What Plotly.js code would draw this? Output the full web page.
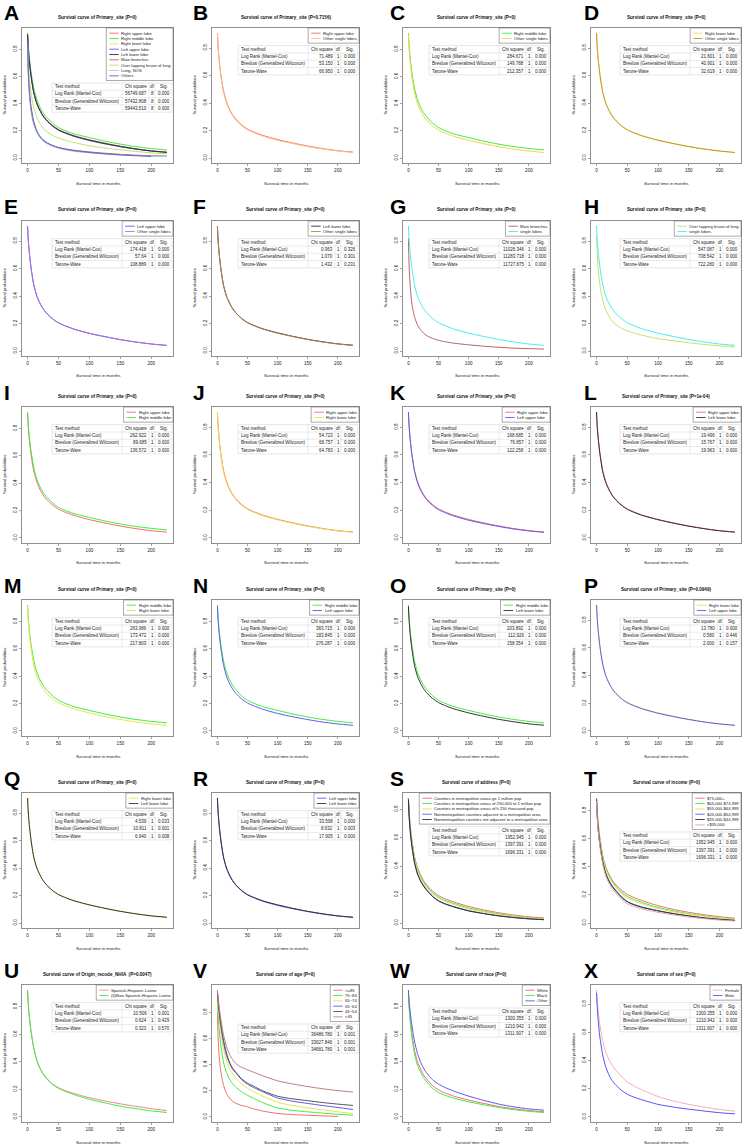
<!DOCTYPE html>
<html><head><meta charset="utf-8">
<script src="https://cdn.plot.ly/plotly-3.0.1.min.js"></script>
<style>html,body{margin:0;padding:0;background:#fff}#chart{width:744px;height:1144px}</style>
</head><body><div id="chart"></div>
<script>
// ---------------- DATA ----------------
const months = [0,1,2,3,5,7,10,15,20,25,30,40,50,60,75,100,125,150,175,200,225];

// primary site subgroups
const rightUpperLobe  = [0.91,0.82,0.76,0.71,0.63,0.57,0.49,0.41,0.355,0.315,0.285,0.242,0.21,0.19,0.165,0.134,0.109,0.087,0.068,0.053,0.043];
const rightMiddleLobe = [0.92,0.84,0.78,0.73,0.655,0.595,0.515,0.43,0.375,0.335,0.305,0.258,0.224,0.203,0.178,0.15,0.124,0.102,0.084,0.07,0.059];
const rightLowerLobe  = [0.91,0.815,0.755,0.705,0.625,0.56,0.48,0.40,0.35,0.31,0.28,0.237,0.206,0.186,0.161,0.131,0.106,0.084,0.066,0.051,0.041];
const leftUpperLobe   = [0.91,0.82,0.76,0.71,0.63,0.565,0.485,0.40,0.348,0.308,0.278,0.235,0.204,0.184,0.159,0.128,0.104,0.083,0.065,0.051,0.041];
const leftLowerLobe   = [0.91,0.815,0.755,0.705,0.625,0.56,0.48,0.40,0.35,0.31,0.281,0.238,0.207,0.187,0.162,0.132,0.107,0.085,0.067,0.052,0.042];
const mainBronchus    = [0.82,0.64,0.54,0.47,0.37,0.31,0.25,0.19,0.155,0.13,0.113,0.092,0.078,0.068,0.057,0.045,0.035,0.027,0.021,0.017,0.014];
const overlapLesion   = [0.84,0.72,0.64,0.58,0.50,0.44,0.37,0.30,0.255,0.222,0.198,0.167,0.147,0.132,0.114,0.09,0.074,0.06,0.048,0.038,0.03];
const lungNOS         = [0.85,0.66,0.55,0.48,0.385,0.325,0.26,0.19,0.15,0.125,0.108,0.086,0.071,0.061,0.05,0.038,0.029,0.022,0.017,0.013,0.011];
const othersSite      = [0.86,0.67,0.565,0.495,0.40,0.34,0.27,0.2,0.16,0.135,0.117,0.093,0.077,0.066,0.054,0.041,0.031,0.023,0.017,0.012,null];
const otherSingleLobes= [0.91,0.815,0.755,0.705,0.625,0.56,0.482,0.40,0.349,0.309,0.279,0.236,0.205,0.185,0.16,0.129,0.105,0.083,0.065,0.051,0.04];
const singleLobes     = [0.91,0.82,0.76,0.71,0.63,0.565,0.485,0.40,0.35,0.31,0.28,0.237,0.206,0.186,0.16,0.13,0.106,0.084,0.066,0.051,0.041];

// address
const metroGe1M      = [0.88,0.80,0.74,0.69,0.61,0.55,0.47,0.39,0.34,0.30,0.27,0.225,0.193,0.172,0.148,0.116,0.092,0.072,0.056,0.044,0.036];
const metro250k1M    = [0.88,0.79,0.73,0.68,0.60,0.54,0.46,0.38,0.33,0.29,0.26,0.214,0.182,0.161,0.138,0.106,0.083,0.064,0.049,0.037,0.03];
const metroLt250k    = [0.87,0.78,0.72,0.67,0.59,0.53,0.45,0.37,0.32,0.28,0.25,0.205,0.173,0.153,0.13,0.099,0.078,0.06,0.046,0.035,0.028];
const nonmetroAdj    = [0.87,0.77,0.70,0.65,0.57,0.51,0.43,0.35,0.30,0.265,0.236,0.19,0.158,0.138,0.116,0.087,0.067,0.051,0.039,0.03,0.024];
const nonmetroNotAdj = [0.87,0.765,0.695,0.645,0.565,0.505,0.425,0.345,0.296,0.26,0.232,0.186,0.154,0.135,0.113,0.085,0.066,0.05,0.038,0.029,0.023];

// income
const income75   = [0.89,0.81,0.75,0.70,0.62,0.56,0.48,0.40,0.35,0.31,0.28,0.236,0.204,0.183,0.158,0.123,0.097,0.076,0.059,0.045,0.034];
const income65   = [0.89,0.80,0.74,0.69,0.61,0.55,0.47,0.39,0.34,0.30,0.27,0.222,0.19,0.169,0.145,0.11,0.086,0.066,0.051,0.038,0.029];
const income55   = [0.88,0.79,0.73,0.68,0.60,0.54,0.46,0.38,0.33,0.29,0.26,0.212,0.178,0.158,0.135,0.103,0.08,0.062,0.048,0.036,0.027];
const income45   = [0.88,0.78,0.71,0.66,0.58,0.52,0.44,0.355,0.305,0.268,0.24,0.19,0.154,0.134,0.113,0.088,0.068,0.051,0.037,0.027,0.019];
const income35   = [0.88,0.775,0.705,0.655,0.575,0.515,0.435,0.35,0.30,0.263,0.235,0.186,0.15,0.131,0.11,0.086,0.066,0.05,0.036,0.026,0.018];
const incomeLt35 = [0.87,0.76,0.69,0.64,0.56,0.50,0.42,0.335,0.285,0.248,0.22,0.172,0.136,0.118,0.099,0.076,0.058,0.043,0.031,0.021,0.014];

// origin
const hispanic    = [0.92,0.83,0.77,0.72,0.64,0.58,0.50,0.41,0.355,0.315,0.285,0.24,0.212,0.193,0.17,0.139,0.116,0.095,0.077,0.06,0.046];
const nonHispanic = [0.92,0.83,0.77,0.72,0.64,0.58,0.50,0.41,0.353,0.312,0.282,0.236,0.207,0.187,0.162,0.127,0.102,0.078,0.06,0.044,0.032];

// age
const ageGe85  = [0.80,0.63,0.53,0.46,0.37,0.31,0.245,0.18,0.145,0.12,0.105,0.088,0.077,0.062,0.045,0.026,0.018,0.013,0.008,0.004,null];
const age75_84 = [0.89,0.79,0.72,0.66,0.57,0.50,0.42,0.34,0.29,0.255,0.23,0.193,0.165,0.142,0.11,0.068,0.05,0.039,0.029,0.02,0.013];
const age65_74 = [0.93,0.86,0.80,0.75,0.67,0.60,0.52,0.43,0.37,0.33,0.30,0.252,0.219,0.193,0.16,0.112,0.087,0.07,0.054,0.039,0.026];
const age55_64 = [0.95,0.89,0.84,0.79,0.72,0.65,0.57,0.47,0.41,0.365,0.34,0.285,0.25,0.225,0.193,0.145,0.12,0.103,0.087,0.072,0.057];
const age45_54 = [0.96,0.90,0.85,0.81,0.73,0.67,0.59,0.49,0.42,0.375,0.345,0.293,0.258,0.235,0.2,0.158,0.138,0.124,0.11,0.098,0.088];
const ageLt45  = [0.97,0.92,0.88,0.84,0.77,0.71,0.63,0.54,0.48,0.44,0.41,0.38,0.36,0.342,0.315,0.276,0.252,0.232,0.215,0.201,0.19];

// race
const raceWhite = [0.91,0.82,0.76,0.71,0.63,0.565,0.485,0.40,0.35,0.305,0.275,0.228,0.196,0.175,0.151,0.122,0.098,0.076,0.059,0.046,0.037];
const raceBlack = [0.90,0.81,0.745,0.695,0.61,0.545,0.46,0.375,0.325,0.285,0.255,0.209,0.177,0.158,0.136,0.11,0.088,0.068,0.053,0.041,0.032];
const raceOther = [0.92,0.85,0.80,0.76,0.69,0.63,0.55,0.46,0.40,0.355,0.32,0.27,0.238,0.215,0.188,0.151,0.12,0.093,0.073,0.058,0.049];

// sex
const female = [0.90,0.83,0.78,0.74,0.67,0.61,0.54,0.46,0.41,0.37,0.34,0.29,0.248,0.222,0.19,0.145,0.113,0.089,0.07,0.053,0.041];
const male   = [0.88,0.79,0.72,0.67,0.58,0.52,0.44,0.355,0.30,0.26,0.232,0.19,0.161,0.142,0.12,0.089,0.07,0.055,0.042,0.03,0.022];

// test tables
const testMethods = ["Log Rank (Mantel-Cox)","Breslow (Generalized Wilcoxon)","Tarone-Ware"];
const tableHeader = ["Test method","Chi square","df","Sig."];
const chiSquare = [
 ["56749.687","57432.808","59443.510"],["71.489","53.150","66.950"],["284.671","149.788","212.357"],["21.601","40.901","32.619"],
 ["174.418","57.64","108.889"],["0.963","1.070","1.432"],["11026.346","11283.718","11727.875"],["547.087","708.542","722.280"],
 ["262.922","89.685","136.572"],["54.723","68.757","64.783"],["168.685","76.857","122.258"],["19.496","15.767","19.963"],
 ["263.986","173.472","217.803"],["383.715","183.845","276.287"],["203.892","112.926","158.354"],["13.780","0.580","2.000"],
 ["4.539","10.811","6.940"],["33.598","8.632","17.905"],["1952.945","1397.391","1696.331"],["1952.945","1397.391","1696.331"],
 ["10.506","0.624","0.323"],["36486.780","33627.846","34681.780"],["1300.355","1210.942","1311.907"],["1300.355","1210.942","1311.907"]];
const dfs = ["8","1","1","1","1","1","1","1","1","1","1","1","1","1","1","1","1","1","1","1","1","1","1","1"];
const sigs = [
 ["0.000","0.000","0.000"],["0.000","0.000","0.000"],["0.000","0.000","0.000"],["0.000","0.000","0.000"],
 ["0.000","0.000","0.000"],["0.326","0.301","0.231"],["0.000","0.000","0.000"],["0.000","0.000","0.000"],
 ["0.000","0.000","0.000"],["0.000","0.000","0.000"],["0.000","0.000","0.000"],["0.000","0.000","0.000"],
 ["0.000","0.000","0.000"],["0.000","0.000","0.000"],["0.000","0.000","0.000"],["0.000","0.446","0.157"],
 ["0.033","0.001","0.008"],["0.000","0.003","0.000"],["0.000","0.000","0.000"],["0.000","0.000","0.000"],
 ["0.001","0.429","0.570"],["0.001","0.001","0.001"],["0.000","0.000","0.000"],["0.000","0.000","0.000"]];

const panelLetters = ["A","B","C","D","E","F","G","H","I","J","K","L","M","N","O","P","Q","R","S","T","U","V","W","X"];
const ps = "Survival curve of Primary_site ";
const panelTitles = [ps+"(P=0)",ps+"(P=0.7156)",ps+"(P=0)",ps+"(P=0)",ps+"(P=0)",ps+"(P=0)",ps+"(P=0)",ps+"(P=0)",
 ps+"(P=0)",ps+"(P=0)",ps+"(P=0)",ps+"(P=1e-04)",ps+"(P=0)",ps+"(P=0)",ps+"(P=0)",ps+"(P=0.0949)",ps+"(P=0)",ps+"(P=0)",
 "Survival curve of address (P=0)","Survival curve of income (P=0)","Survival curve of Origin_recode_NHIA  (P=0.0047)",
 "Survival curve of age (P=0)","Survival curve of race (P=0)","Survival curve of sex (P=0)"];

// ---------------- STYLE ----------------
const cR='#f26b6b', cG='#3fec3f', cY='#ece24a', cB='#5a5af2', cK='#303030', cMB='#bc6262', cOL='#c4e06c', cNOS='#92d0e6', cOT='#6a5acd', cC='#45eeee';
const panels = [
 {s:[rightUpperLobe,rightMiddleLobe,rightLowerLobe,leftUpperLobe,leftLowerLobe,mainBronchus,overlapLesion,lungNOS,othersSite],
  n:["Right upper lobe","Right middle lobe","Right lower lobe","Left upper lobe","Left lower lobe","Main bronchus","Over lapping lesion of lung","Lung, NOS","Others"],
  c:[cR,cG,cY,cB,cK,cMB,cOL,cNOS,cOT]},
 {s:[rightUpperLobe,otherSingleLobes],n:["Right upper lobe","Other single lobes"],c:[cR,'#ffbf86']},
 {s:[rightMiddleLobe,otherSingleLobes],n:["Right middle lobe","Other single lobes"],c:[cG,'#f3d640']},
 {s:[rightLowerLobe,otherSingleLobes],n:["Right lower lobe","Other single lobes"],c:[cY,'#c8922c']},
 {s:[leftUpperLobe,otherSingleLobes],n:["Left upper lobe","Other single lobes"],c:[cB,'#b070d8']},
 {s:[leftLowerLobe,otherSingleLobes],n:["Left lower lobe","Other single lobes"],c:[cK,'#b08850']},
 {s:[mainBronchus,singleLobes],n:["Main bronchus","single lobes"],c:[cMB,cC]},
 {s:[overlapLesion,singleLobes],n:["Over lapping lesion of lung","single lobes"],c:[cOL,cC]},
 {s:[rightUpperLobe,rightMiddleLobe],n:["Right upper lobe","Right middle lobe"],c:[cR,cG]},
 {s:[rightUpperLobe,rightLowerLobe],n:["Right upper lobe","Right lower lobe"],c:[cR,cY]},
 {s:[rightUpperLobe,leftUpperLobe],n:["Right upper lobe","Left upper lobe"],c:[cR,cB]},
 {s:[rightUpperLobe,leftLowerLobe],n:["Right upper lobe","Left lower lobe"],c:[cR,cK]},
 {s:[rightMiddleLobe,rightLowerLobe],n:["Right middle lobe","Right lower lobe"],c:[cG,cY]},
 {s:[rightMiddleLobe,leftUpperLobe],n:["Right middle lobe","Left upper lobe"],c:[cG,cB]},
 {s:[rightMiddleLobe,leftLowerLobe],n:["Right middle lobe","Left lower lobe"],c:[cG,cK]},
 {s:[rightLowerLobe,leftUpperLobe],n:["Right lower lobe","Left upper lobe"],c:[cY,cB]},
 {s:[rightLowerLobe,leftLowerLobe],n:["Right lower lobe","Left lower lobe"],c:[cY,cK]},
 {s:[leftUpperLobe,leftLowerLobe],n:["Left upper lobe","Left lower lobe"],c:[cB,cK]},
 {s:[metroGe1M,metro250k1M,metroLt250k,nonmetroAdj,nonmetroNotAdj],
  n:["Counties in metropolitan areas ge 1 million pop","Counties in metropolitan areas of 250,000 to 1 million pop","Counties in metropolitan areas of lt 250 thousand pop","Nonmetropolitan counties adjacent to a metropolitan area","Nonmetropolitan counties not adjacent to a metropolitan area"],
  c:[cR,cG,cY,cB,cK]},
 {s:[income75,income65,income55,income45,income35,incomeLt35],n:["$75,000+","$65,000-$74,999","$55,000-$64,999","$45,000-$54,999","$35,000-$44,999","<$35,000"],c:[cR,cG,cY,cB,cK,'#e8a4a4']},
 {s:[hispanic,nonHispanic],n:["Spanish-Hispanic-Latino","(0)Non-Spanish-Hispanic-Latino"],c:['#f48484',cG]},
 {s:[ageGe85,age75_84,age65_74,age55_64,age45_54,ageLt45],n:[">=85","75~84","65~74","55~64","45~54","<45"],c:[cR,cG,cY,cB,'#555555','#c47a7a']},
 {s:[raceWhite,raceBlack,raceOther],n:["White","Black","Other"],c:[cR,cG,cB]},
 {s:[female,male],n:["Female","Male"],c:['#f5b0b0','#5050ff']}
];

const W=744,H=1144;
const colL=[22,212,403,591], colR=[173,359,550,741];
const rowT=[28,221,407,600,793,985], rowB=[163,356,543,736,928,1122];
const letterX=[3,192,389,583];
const FONT='"Liberation Sans", Arial, Helvetica, sans-serif';
const fx=p=>p/W, fy=p=>1-p/H;
const cctx=document.createElement('canvas').getContext('2d');
function tw(s,size,bold){cctx.font=(bold?'bold ':'')+'100px "Liberation Sans", Arial';return cctx.measureText(s).width*size/100;}
const esc=s=>s.replace(/&/g,'&amp;').replace(/</g,'&lt;').replace(/>/g,'&gt;');

const traces=[], shapes=[], annotations=[];
const layout={width:W,height:H,margin:{l:0,r:0,t:0,b:0},paper_bgcolor:'#fff',plot_bgcolor:'rgba(0,0,0,0)',showlegend:false,font:{family:FONT,color:'#222'}};
function ann(o){annotations.push(Object.assign({xref:'paper',yref:'paper',showarrow:false,borderpad:0},o));}
function pline(x0,y0,x1,y1,color,w){shapes.push({type:'line',xref:'paper',yref:'paper',x0:fx(x0),y0:fy(y0),x1:fx(x1),y1:fy(y1),line:{color:color,width:w}});}

panels.forEach((p,i)=>{
  const c=i%4, r=Math.floor(i/4);
  const L=colL[c], R=colR[c], T=rowT[r], B=rowB[r];
  const xa=i?'x'+(i+1):'x', ya=i?'y'+(i+1):'y';
  let ymax=0; p.s.forEach(s=>s.forEach(v=>{if(v!=null&&v>ymax)ymax=v;}));
  const axBase={showgrid:false,zeroline:false,showline:true,mirror:true,linecolor:'#444',linewidth:0.6,ticks:'outside',ticklen:2.5,tickwidth:0.5,tickcolor:'#444',tickfont:{size:4.6,color:'#222',family:FONT},fixedrange:true};
  layout[i?'xaxis'+(i+1):'xaxis']=Object.assign({},axBase,{domain:[fx(L),fx(R)],anchor:ya,range:[-9,235],tickmode:'array',tickvals:[0,50,100,150,200]});
  layout[i?'yaxis'+(i+1):'yaxis']=Object.assign({},axBase,{domain:[fy(B),fy(T)],anchor:xa,range:[-0.04*ymax,1.04*ymax],tickmode:'array',tickvals:[0,0.2,0.4,0.6,0.8],ticktext:['0.0','0.2','0.4','0.6','0.8'],tickangle:-90});
  p.s.forEach((s,k)=>traces.push({x:months,y:s,xaxis:xa,yaxis:ya,type:'scatter',mode:'lines',line:{color:p.c[k],width:1,shape:'spline',smoothing:0.7},hoverinfo:'skip',showlegend:false}));
  // letter + title + axis titles
  ann({text:'<b>'+panelLetters[i]+'</b>',x:fx(letterX[c]),y:fy(T-15),xanchor:'left',yanchor:'middle',font:{family:FONT,size:21,color:'#000'}});
  ann({text:'<b>'+esc(panelTitles[i])+'</b>',x:fx((L+R)/2),y:fy(T-11),xanchor:'center',yanchor:'middle',font:{family:FONT,size:4.6,color:'#111'}});
  ann({text:'Survival time in months',x:fx((L+R)/2),y:fy(B+20),xanchor:'center',yanchor:'middle',font:{family:FONT,size:4.3,color:'#222'}});
  ann({text:'Survival probabilities',x:fx(L-18),y:fy((T+B)/2),xanchor:'center',yanchor:'middle',textangle:-90,font:{family:FONT,size:4.3,color:'#222'}});
  // legend
  const fs=4.2, n=p.n.length;
  const lw=14+Math.max(...p.n.map(s=>tw(s,fs)))+3;
  const lh=5.33*n+4.5;
  shapes.push({type:'rect',xref:'paper',yref:'paper',x0:fx(R-lw),x1:fx(R),y0:fy(T+lh),y1:fy(T),line:{color:'#555',width:0.5},fillcolor:'#fff'});
  p.n.forEach((nm,k)=>{
    const yy=T+5.2+k*5.33;
    pline(R-lw+3,yy,R-lw+12.5,yy,p.c[k],0.9);
    ann({text:esc(nm),x:fx(R-lw+14),y:fy(yy),xanchor:'left',yanchor:'middle',font:{family:FONT,size:fs,color:'#222'}});
  });
  // table
  const tT=T+lh+2.5, tR=R-1, tL=tR-120, rh=7.3, bx=[0,70,97,103,120];
  shapes.push({type:'rect',xref:'paper',yref:'paper',x0:fx(tL),x1:fx(tR),y0:fy(tT+4*rh),y1:fy(tT),line:{color:'#cfcfcf',width:0.5},fillcolor:'#fff'});
  for(let k=1;k<4;k++) pline(tL,tT+k*rh,tR,tT+k*rh,'#d6d6d6',0.5);
  for(let k=1;k<4;k++) pline(tL+bx[k],tT,tL+bx[k],tT+4*rh,'#d6d6d6',0.5);
  const tf={family:FONT,size:4.5,color:'#222'};
  const rows=[tableHeader].concat(testMethods.map((m,k)=>[m,chiSquare[i][k],dfs[i],sigs[i][k]]));
  rows.forEach((row,k)=>{
    const yy=fy(tT+(k+0.5)*rh);
    ann({text:esc(row[0]),x:fx(tL+2),y:yy,xanchor:'left',yanchor:'middle',font:tf});
    if(k===0) ann({text:row[1],x:fx(tL+bx[1]+1.5),y:yy,xanchor:'left',yanchor:'middle',font:tf});
    else ann({text:row[1],x:fx(tL+bx[2]-1.5),y:yy,xanchor:'right',yanchor:'middle',font:tf});
    ann({text:row[2],x:fx(tL+(bx[2]+bx[3])/2),y:yy,xanchor:'center',yanchor:'middle',font:tf});
    ann({text:row[3],x:fx(tL+(bx[3]+bx[4])/2),y:yy,xanchor:'center',yanchor:'middle',font:tf});
  });
});
layout.shapes=shapes; layout.annotations=annotations;
Plotly.newPlot('chart',traces,layout,{staticPlot:true,displayModeBar:false});
</script></body></html>
